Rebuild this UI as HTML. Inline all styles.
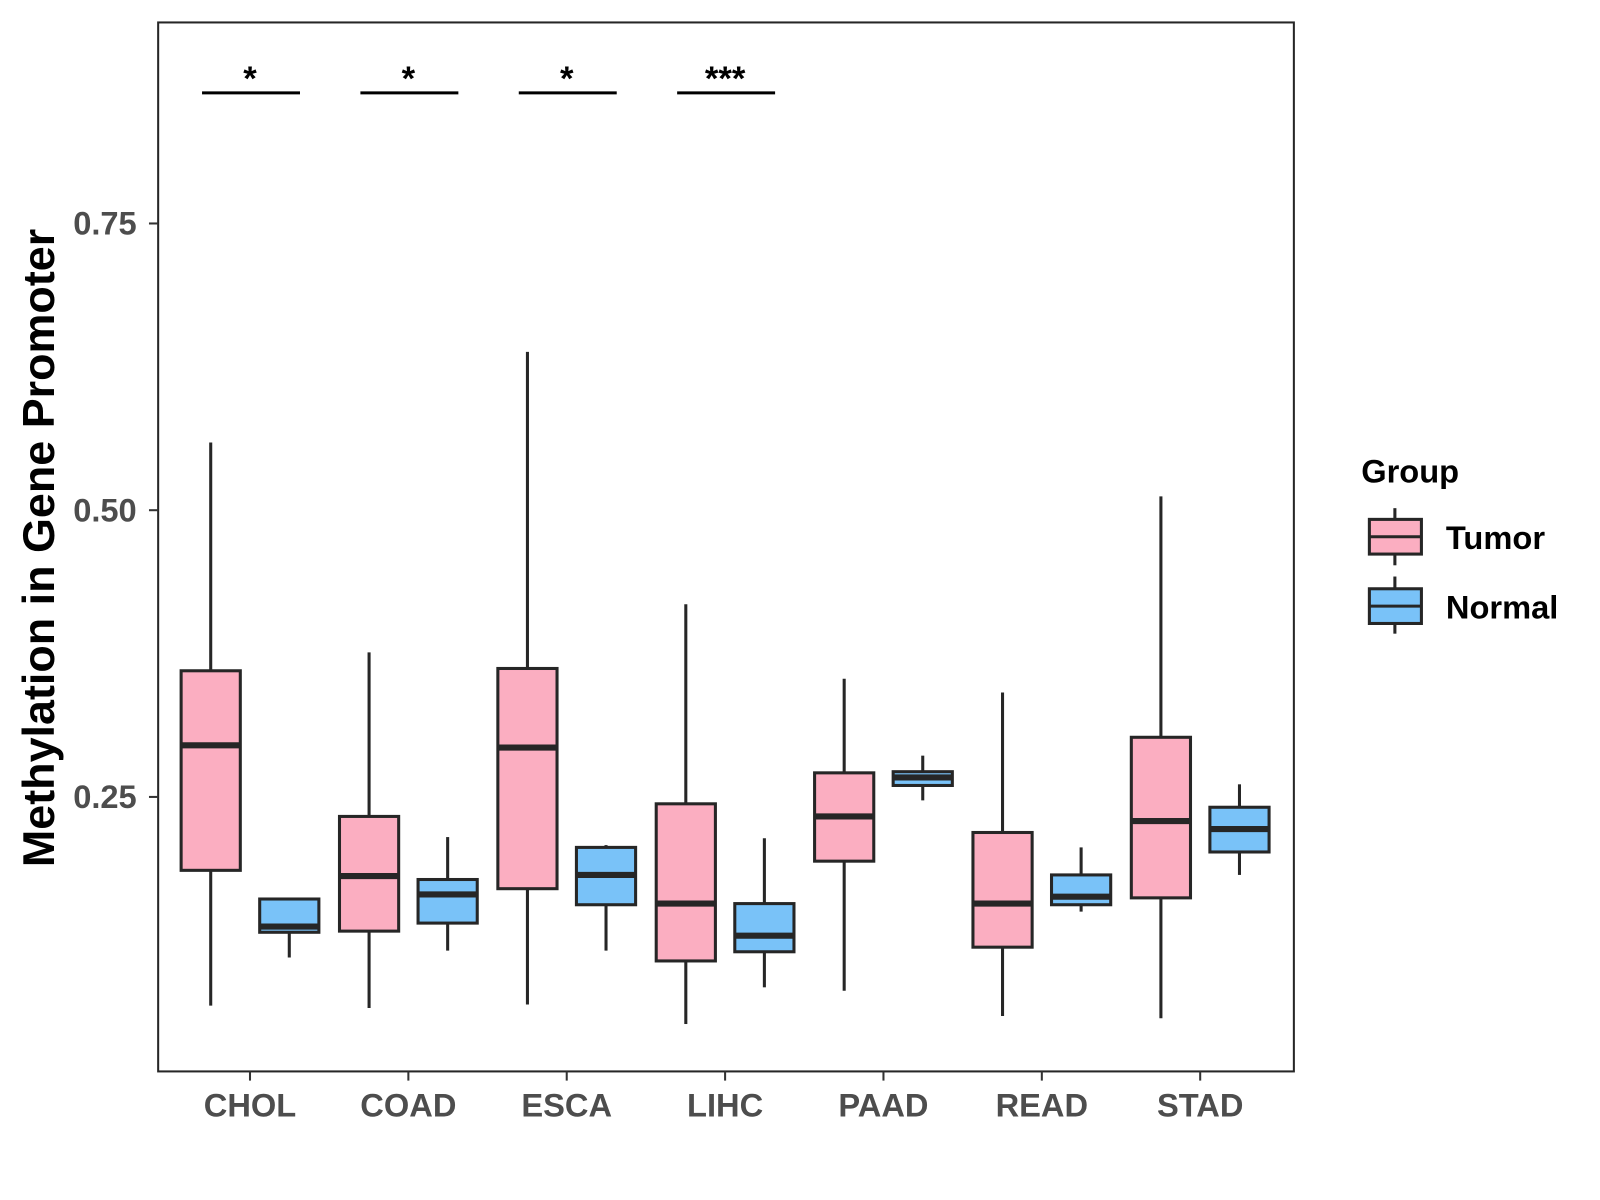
<!DOCTYPE html>
<html><head><meta charset="utf-8"><style>
body{margin:0;background:#fff;}
svg{display:block;font-family:"Liberation Sans",Arial,sans-serif;}
</style></head><body>
<svg id="chart" width="1600" height="1200" viewBox="0 0 1600 1200" xmlns="http://www.w3.org/2000/svg">
<rect x="0" y="0" width="1600" height="1200" fill="#fff"/>
<g transform="scale(1.0204)">
<g id="plot"></g>
<text transform="translate(53,537) rotate(-90)" text-anchor="middle" font-size="44" font-weight="bold" fill="#000">Methylation in Gene Promoter</text>
<g>
<text x="1334" y="473" font-size="32" font-weight="bold">Group</text>
<g>
<line x1="1367" y1="498" x2="1367" y2="554" stroke="#262626" stroke-width="3"/>
<rect x="1342" y="509" width="51" height="34" fill="#FBAEC1" stroke="#262626" stroke-width="3"/>
<line x1="1342" y1="526" x2="1393" y2="526" stroke="#262626" stroke-width="3"/>
<text x="1417" y="538" font-size="32" font-weight="bold">Tumor</text>
</g>
<g>
<line x1="1367" y1="565" x2="1367" y2="621" stroke="#262626" stroke-width="3"/>
<rect x="1342" y="577" width="51" height="34" fill="#79C2F8" stroke="#262626" stroke-width="3"/>
<line x1="1342" y1="594" x2="1393" y2="594" stroke="#262626" stroke-width="3"/>
<text x="1417" y="606" font-size="32" font-weight="bold">Normal</text>
</g>
</g>
</g>
</svg>
<script>
const categories=["CHOL","COAD","ESCA","LIHC","PAAD","READ","STAD"];
// [low, q1, median, q3, high]
const tumorStats=[[0.068,0.186,0.295,0.360,0.559],[0.066,0.133,0.181,0.233,0.376],[0.069,0.170,0.293,0.362,0.638],[0.052,0.107,0.157,0.244,0.418],[0.081,0.194,0.233,0.271,0.353],[0.059,0.119,0.157,0.219,0.341],[0.057,0.162,0.229,0.302,0.512]];
const normalStats=[[0.110,0.132,0.137,0.161,0.161],[0.116,0.140,0.165,0.178,0.215],[0.116,0.156,0.182,0.206,0.208],[0.084,0.115,0.129,0.157,0.214],[0.247,0.260,0.267,0.272,0.286],[0.150,0.156,0.163,0.182,0.206],[0.182,0.202,0.222,0.241,0.261]];
const yTicks=[0.25,0.50,0.75];
const yTickLabels=["0.25","0.50","0.75"];
const sigLabels=["*","*","*","***","","",""];

const NS="http://www.w3.org/2000/svg";
const g=document.getElementById('plot');
const P={l:155,r:1268,t:22,b:1050};
const yScale=v=>781-(v-0.25)*1124;
const step=155.2, x0=245;
const xScale=i=>x0+i*step;
function mk(tag,attrs,parent){const e=document.createElementNS(NS,tag);for(const k in attrs)e.setAttribute(k,attrs[k]);(parent||g).appendChild(e);return e;}

const panel=mk('rect',{x:P.l,y:P.t,width:P.r-P.l,height:P.b-P.t,fill:'none',stroke:'#262626','stroke-width':2});



yTicks.forEach((v,i)=>{
  const y=yScale(v);
  const t=mk('line',{x1:P.l-9,x2:P.l,y1:y,y2:y,stroke:'#333','stroke-width':2});
  
  
  const tx=mk('text',{x:P.l-21,y:y+11,'text-anchor':'end','font-size':32,'font-weight':'bold',fill:'#4d4d4d'});
  tx.textContent=yTickLabels[i];
  
  
});

function box(s,cx,fill,name){
  const grp=mk('g',{});
  
  
  const w=58;
  mk('line',{x1:cx,x2:cx,y1:yScale(s[4]),y2:yScale(s[3]),stroke:'#262626','stroke-width':3},grp);
  mk('line',{x1:cx,x2:cx,y1:yScale(s[1]),y2:yScale(s[0]),stroke:'#262626','stroke-width':3},grp);
  mk('rect',{x:cx-w/2,y:yScale(s[3]),width:w,height:yScale(s[1])-yScale(s[3]),fill:fill,stroke:'#262626','stroke-width':3},grp);
  mk('line',{x1:cx-w/2,x2:cx+w/2,y1:yScale(s[2]),y2:yScale(s[2]),stroke:'#262626','stroke-width':6},grp);
}

categories.forEach((c,i)=>{
  const cx=xScale(i);
  box(tumorStats[i],cx-38.5,'#FBAEC1','box-tumor-'+c.toLowerCase());
  box(normalStats[i],cx+38.5,'#79C2F8','box-normal-'+c.toLowerCase());
  const t=mk('line',{x1:cx,x2:cx,y1:P.b,y2:P.b+9,stroke:'#333','stroke-width':2});
  
  
  const lb=mk('text',{x:cx,y:1094,'text-anchor':'middle','font-size':32,'font-weight':'bold',fill:'#4d4d4d'});
  lb.textContent=c;
  
  
  if(sigLabels[i]){
    const sl=mk('line',{x1:cx-47,x2:cx+49,y1:91,y2:91,stroke:'#000','stroke-width':3});
    
    
    const st=mk('text',{x:cx,y:88,'text-anchor':'middle','font-size':34,'font-weight':'bold',fill:'#000'});
    st.textContent=sigLabels[i];
    
    
  }
});
</script>
</body></html>
